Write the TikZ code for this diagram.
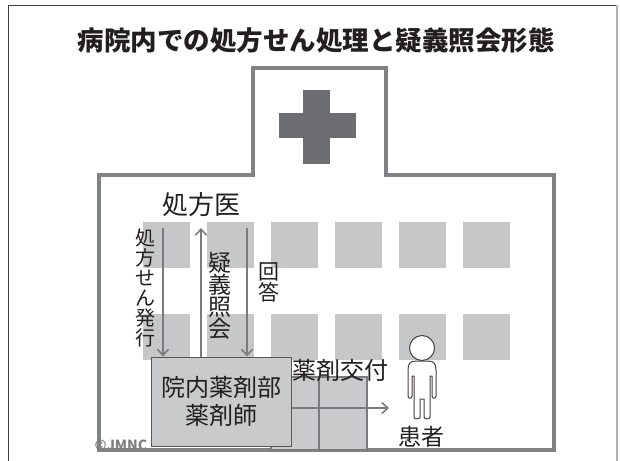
\documentclass[tikz,border=0pt]{standalone}
\usepackage{fontspec}
\setmainfont{Noto Sans CJK JP}
\usetikzlibrary{arrows.meta}
\definecolor{wallgray}{HTML}{808285}
\definecolor{crossgray}{HTML}{6D6E71}
\definecolor{wingray}{HTML}{C6C7C9}
\definecolor{boxgray}{HTML}{C9CACC}
\definecolor{linegray}{HTML}{7A7B7E}
\definecolor{ink}{HTML}{231F20}
\begin{document}
\begin{tikzpicture}[x=1pt,y=-1pt,
  wall/.style={draw=wallgray, line width=4pt, line join=miter},
  win/.style={fill=wingray},
  flow/.style={draw=linegray, line width=2pt,
    -{Straight Barb[length=6pt,width=11pt,line width=1.6pt]}},
  lbl/.style={inner sep=0pt, text=ink, align=center},
  unit/.style={draw=ink!75, line width=1pt, fill=boxgray, inner sep=0pt,
    minimum width=140pt, minimum height=89pt, align=center, text=ink,
    font=\fontsize{24}{28}\selectfont},
  door/.style={draw=linegray, line width=1.6pt, fill=boxgray},
  figure/.style={draw=ink!85, line width=1pt, fill=white, line join=round}
]
\useasboundingbox (0,0) rectangle (620,460);
\fill[white] (0,0) rectangle (620,460);

% outer frame
\draw[black!75, line width=1.5pt] (8.5,470) -- (8.5,5.5) -- (617,5.5);
\draw[black!30, line width=1.2pt] (617,5.5) -- (617,470);

% windows
\foreach \c in {0,...,5} {
  \fill[win] (143+64*\c,222) rectangle ++(47,46);
  \fill[win] (143+64*\c,314) rectangle ++(47,46);
}

% building outline with tower
\draw[wall] (99,450) -- (99,175) -- (253,175) -- (253,68) -- (386,68)
  -- (386,175) -- (554,175) -- (554,450) -- cycle;

% red-cross sign on the tower
\fill[crossgray] (303,90) rectangle (330,164);
\fill[crossgray] (279,113) rectangle (356,138);

% entrance door
\draw[door] (271,377) rectangle (367,450);
\draw[draw=linegray, line width=1.6pt] (319,377) -- (319,450);

% title
\node[lbl, font=\fontsize{26.5}{30}\selectfont\bfseries] (title) at (316,40)
  {病院内での処方せん処理と疑義照会形態};

% actors
\node[lbl, font=\fontsize{26}{28}\selectfont] (doc) at (201,205) {処方医};
\node[unit] (ph) at (221,401.5) {院内薬剤部\\薬剤師};

% patient pictogram
\draw[figure] (422,348) circle (12.5);
\draw[figure] (416,361) .. controls (410,361) and (408,364) .. (408,370)
  -- (408,396) .. controls (408,399) and (412,399) .. (412,396)
  -- (412,376) -- (414,376) -- (414,417)
  .. controls (414,419.5) and (420,419.5) .. (420,417)
  -- (420,399) -- (424,399) -- (424,417)
  .. controls (424,419.5) and (430,419.5) .. (430,417)
  -- (430,376) -- (432,376) -- (432,396)
  .. controls (432,399) and (436,399) .. (436,396)
  -- (436,370) .. controls (436,364) and (434,361) .. (428,361) -- cycle;
\node[lbl, font=\fontsize{23}{26}\selectfont] (pt) at (421,437) {患者};

% flows between doctor and pharmacy
\coordinate (q1) at (163,228);
\coordinate (q2) at (201,228);
\coordinate (q3) at (247,228);
\draw[flow] (q1) -- (q1 |- ph.north);
\draw[flow] (q2 |- ph.north) -- (q2);
\draw[flow] (q3) -- (q3 |- ph.north);

\node[lbl, font=\fontsize{20}{20}\selectfont] (issue) at (145,288)
  {処\\方\\せ\\ん\\発\\行};
\node[lbl, font=\fontsize{23}{22}\selectfont] (inq) at (220,296)
  {疑\\義\\照\\会};
\node[lbl, font=\fontsize{21}{21}\selectfont] (ans) at (269,282) {回\\答};

% dispensing to the patient
\coordinate (hand) at (389,408);
\draw[flow] (hand -| ph.east) -- (hand);
\node[lbl, font=\fontsize{24}{26}\selectfont] (disp) at (340,370) {薬剤交付};

% credit
\node[lbl, text=black!50, font=\fontsize{14}{14}\selectfont\bfseries] (credit) at (121,445) {©JMNC};
\end{tikzpicture}
\end{document}
